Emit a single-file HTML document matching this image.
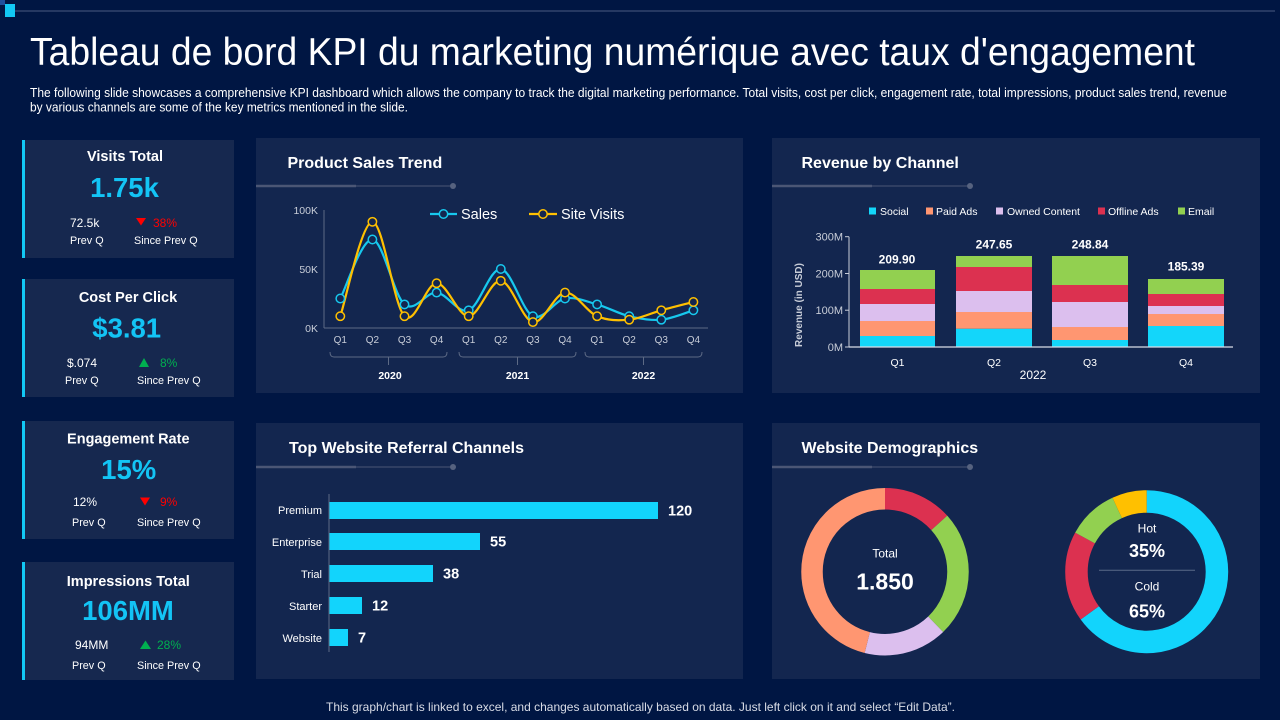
<!DOCTYPE html>
<html><head><meta charset="utf-8"><style>
html,body{margin:0;padding:0;background:#001643;}
svg{display:block;font-family:"Liberation Sans",Arial,sans-serif;}
</style></head><body>
<svg width="1280" height="720" viewBox="0 0 1280 720" xmlns="http://www.w3.org/2000/svg">
<rect width="1280" height="720" fill="#001643"/>
<!-- header decoration -->
<rect x="0" y="0" width="5" height="5" fill="#1f4f9c"/>
<rect x="5" y="4" width="10" height="13" fill="#12c8f4"/>
<line x1="15" y1="11" x2="1275" y2="11" stroke="#4a5a80" stroke-width="1"/>
<!-- title -->
<text x="30" y="65" font-size="39" fill="#ffffff" textLength="1165" lengthAdjust="spacingAndGlyphs">Tableau de bord KPI du marketing numérique avec taux d'engagement</text>
<text x="30" y="97" font-size="12.5" fill="#ffffff" textLength="1197" lengthAdjust="spacingAndGlyphs">The following slide showcases a comprehensive KPI dashboard which allows the company to track the digital marketing performance. Total visits, cost per click, engagement rate, total impressions, product sales trend, revenue</text>
<text x="30" y="111.5" font-size="12.5" fill="#ffffff" textLength="378" lengthAdjust="spacingAndGlyphs">by various channels are some of the key metrics mentioned in the slide.</text>

<!-- KPI cards -->
<g fill="#16284f">
<rect x="22" y="140" width="212" height="118"/>
<rect x="22" y="279" width="212" height="118"/>
<rect x="22" y="421" width="212" height="118"/>
<rect x="22" y="562" width="212" height="118"/>
</g>
<g fill="#12c8f4">
<rect x="22" y="140" width="3" height="118"/>
<rect x="22" y="279" width="3" height="118"/>
<rect x="22" y="421" width="3" height="118"/>
<rect x="22" y="562" width="3" height="118"/>
</g>
<g text-anchor="middle" font-weight="bold" fill="#ffffff" font-size="14.5">
<text x="125" y="161">Visits Total</text>
<text x="128" y="302">Cost Per Click</text>
<text x="128.3" y="443.5">Engagement Rate</text>
<text x="128.3" y="586">Impressions Total</text>
</g>
<g text-anchor="middle" font-weight="bold" fill="#13c4f5" font-size="27.5">
<text x="124.5" y="197">1.75k</text>
<text x="126.7" y="337.5">$3.81</text>
<text x="128.7" y="479">15%</text>
<text x="128" y="620">106MM</text>
</g>
<g fill="#ffffff" font-size="12">
<text x="70" y="227">72.5k</text>
<text x="67" y="367">$.074</text>
<text x="73" y="506">12%</text>
<text x="75" y="649">94MM</text>
</g>
<g fill="#ffffff" font-size="10.8">
<text x="70" y="244">Prev Q</text>
<text x="134" y="244">Since Prev Q</text>
<text x="65" y="384">Prev Q</text>
<text x="137" y="384">Since Prev Q</text>
<text x="72" y="526">Prev Q</text>
<text x="137" y="526">Since Prev Q</text>
<text x="72" y="669">Prev Q</text>
<text x="137" y="669">Since Prev Q</text>
</g>
<polygon points="136,218 146,218 141,225.5" fill="#ff0000"/>
<text x="153" y="227" font-size="12" fill="#ff0000">38%</text>
<polygon points="139,367 149,367 144,358" fill="#00b050"/>
<text x="160" y="367" font-size="12" fill="#00b050">8%</text>
<polygon points="140,497.5 150,497.5 145,505.5" fill="#ff0000"/>
<text x="160" y="506" font-size="12" fill="#ff0000">9%</text>
<polygon points="140,649 151,649 145.5,640.5" fill="#00b050"/>
<text x="157" y="649" font-size="12" fill="#00b050">28%</text>

<!-- panels -->
<g fill="#13264f">
<rect x="256" y="138" width="487" height="255"/>
<rect x="772" y="138" width="488" height="255"/>
<rect x="256" y="423" width="487" height="256"/>
<rect x="772" y="423" width="488" height="256"/>
</g>
<g font-weight="bold" fill="#ffffff" font-size="16">
<text x="287.5" y="168">Product Sales Trend</text>
<text x="801.5" y="168">Revenue by Channel</text>
<text x="289" y="453">Top Website Referral Channels</text>
<text x="801.5" y="453">Website Demographics</text>
</g>
<!-- underline decorations -->
<g stroke="#4b5675">
<line x1="256" y1="186" x2="356" y2="186" stroke-width="2.5"/>
<line x1="356" y1="186" x2="452" y2="186" stroke-width="1"/>
<line x1="772" y1="186" x2="872" y2="186" stroke-width="2.5"/>
<line x1="872" y1="186" x2="968" y2="186" stroke-width="1"/>
<line x1="256" y1="467" x2="356" y2="467" stroke-width="2.5"/>
<line x1="356" y1="467" x2="452" y2="467" stroke-width="1"/>
<line x1="772" y1="467" x2="872" y2="467" stroke-width="2.5"/>
<line x1="872" y1="467" x2="968" y2="467" stroke-width="1"/>
</g>
<g fill="#56627f">
<circle cx="453" cy="186" r="3"/>
<circle cx="970" cy="186" r="3"/>
<circle cx="453" cy="467" r="3"/>
<circle cx="970" cy="467" r="3"/>
</g>

<!-- Product Sales Trend chart -->
<line x1="324" y1="210" x2="324" y2="328" stroke="#5d6a85" stroke-width="1"/>
<line x1="324" y1="328" x2="708" y2="328" stroke="#5d6a85" stroke-width="1"/>
<g fill="#c8cdd8" font-size="10.5" text-anchor="end">
<text x="318" y="214">100K</text>
<text x="318" y="273">50K</text>
<text x="318" y="332">0K</text>
</g>
<g fill="#c8cdd8" font-size="10" text-anchor="middle">
<text x="340.3" y="343">Q1</text><text x="372.4" y="343">Q2</text><text x="404.5" y="343">Q3</text><text x="436.6" y="343">Q4</text>
<text x="468.7" y="343">Q1</text><text x="500.8" y="343">Q2</text><text x="532.9" y="343">Q3</text><text x="565" y="343">Q4</text>
<text x="597.1" y="343">Q1</text><text x="629.2" y="343">Q2</text><text x="661.3" y="343">Q3</text><text x="693.4" y="343">Q4</text>
</g>
<g fill="none" stroke="#5d6a85" stroke-width="1">
<path d="M330,352 Q330,357 334,357 L443,357 Q447,357 447,352"/>
<line x1="388.5" y1="357" x2="388.5" y2="365"/>
<path d="M459,352 Q459,357 463,357 L572,357 Q576,357 576,352"/>
<line x1="517.5" y1="357" x2="517.5" y2="365"/>
<path d="M585,352 Q585,357 589,357 L698,357 Q702,357 702,352"/>
<line x1="643.5" y1="357" x2="643.5" y2="365"/>
</g>
<g fill="#ffffff" font-size="10.5" font-weight="bold" text-anchor="middle">
<text x="390" y="379">2020</text>
<text x="517.5" y="379">2021</text>
<text x="643.5" y="379">2022</text>
</g>
<path fill="none" stroke="#17c8ee" stroke-width="2.2" d="M340.3,298.5 C345.65,288.67 361.7,238.52 372.4,239.5 C383.1,240.48 393.8,295.55 404.5,304.4 C415.2,313.25 425.9,291.62 436.6,292.6 C447.3,293.58 458,314.23 468.7,310.3 C479.4,306.37 490.1,268.02 500.8,269 C511.5,269.98 522.2,311.28 532.9,316.2 C543.6,321.12 554.3,300.47 565,298.5 C575.7,296.53 586.4,301.45 597.1,304.4 C607.8,307.35 618.5,313.65 629.2,316.2 C639.9,318.75 650.6,320.68 661.3,319.7 C672,318.72 688.05,311.87 693.4,310.3"/>
<path fill="none" stroke="#ffc000" stroke-width="2.2" d="M340.3,316.2 C345.65,300.47 361.7,221.8 372.4,221.8 C383.1,221.8 393.8,305.97 404.5,316.2 C415.2,326.43 425.9,283.2 436.6,283.2 C447.3,283.2 458,316.6 468.7,316.2 C479.4,315.8 490.1,279.82 500.8,280.8 C511.5,281.78 522.2,320.13 532.9,322.1 C543.6,324.07 554.3,293.58 565,292.6 C575.7,291.62 586.4,311.68 597.1,316.2 C607.8,320.72 618.5,320.68 629.2,319.7 C639.9,318.72 650.6,313.25 661.3,310.3 C672,307.35 688.05,303.38 693.4,302"/>
<g fill="#13264f" stroke="#17c8ee" stroke-width="1.5">
<circle cx="340.3" cy="298.5" r="4.2"/><circle cx="372.4" cy="239.5" r="4.2"/><circle cx="404.5" cy="304.4" r="4.2"/><circle cx="436.6" cy="292.6" r="4.2"/>
<circle cx="468.7" cy="310.3" r="4.2"/><circle cx="500.8" cy="269" r="4.2"/><circle cx="532.9" cy="316.2" r="4.2"/><circle cx="565" cy="298.5" r="4.2"/>
<circle cx="597.1" cy="304.4" r="4.2"/><circle cx="629.2" cy="316.2" r="4.2"/><circle cx="661.3" cy="319.7" r="4.2"/><circle cx="693.4" cy="310.3" r="4.2"/>
</g>
<g fill="#13264f" stroke="#ffc000" stroke-width="1.5">
<circle cx="340.3" cy="316.2" r="4.2"/><circle cx="372.4" cy="221.8" r="4.2"/><circle cx="404.5" cy="316.2" r="4.2"/><circle cx="436.6" cy="283.2" r="4.2"/>
<circle cx="468.7" cy="316.2" r="4.2"/><circle cx="500.8" cy="280.8" r="4.2"/><circle cx="532.9" cy="322.1" r="4.2"/><circle cx="565" cy="292.6" r="4.2"/>
<circle cx="597.1" cy="316.2" r="4.2"/><circle cx="629.2" cy="319.7" r="4.2"/><circle cx="661.3" cy="310.3" r="4.2"/><circle cx="693.4" cy="302" r="4.2"/>
</g>
<!-- legend -->
<line x1="430" y1="214" x2="457" y2="214" stroke="#17c8ee" stroke-width="2.2"/>
<circle cx="443.5" cy="214" r="4.2" fill="#13264f" stroke="#17c8ee" stroke-width="1.5"/>
<text x="461" y="219" font-size="14.5" fill="#ffffff">Sales</text>
<line x1="529" y1="214" x2="557" y2="214" stroke="#ffc000" stroke-width="2.2"/>
<circle cx="543" cy="214" r="4.2" fill="#13264f" stroke="#ffc000" stroke-width="1.5"/>
<text x="561" y="219" font-size="14.5" fill="#ffffff">Site Visits</text>

<!-- Revenue by Channel -->
<g font-size="10.5" fill="#ffffff">
<rect x="869" y="207.5" width="7" height="7" fill="#13d6fa"/><text x="880" y="215">Social</text>
<rect x="926" y="207.5" width="7" height="7" fill="#ff9671"/><text x="936" y="215">Paid Ads</text>
<rect x="996" y="207.5" width="7" height="7" fill="#dcbfee"/><text x="1007" y="215">Owned Content</text>
<rect x="1098" y="207.5" width="7" height="7" fill="#dc3150"/><text x="1108" y="215">Offline Ads</text>
<rect x="1178" y="207.5" width="7" height="7" fill="#92d050"/><text x="1188" y="215">Email</text>
</g>
<g fill="#c8cdd8" font-size="11" text-anchor="end">
<text x="843" y="240.7">300M</text>
<text x="843" y="277.5">200M</text>
<text x="843" y="314.2">100M</text>
<text x="843" y="351">0M</text>
</g>
<g stroke="#c8cdd8" stroke-width="1">
<line x1="849" y1="236.7" x2="849" y2="347"/>
<line x1="845" y1="236.7" x2="849" y2="236.7"/>
<line x1="845" y1="273.5" x2="849" y2="273.5"/>
<line x1="845" y1="310.2" x2="849" y2="310.2"/>
<line x1="845" y1="347" x2="849" y2="347"/>
</g>
<text transform="translate(802,305) rotate(-90)" text-anchor="middle" font-size="10" font-weight="bold" fill="#c8cdd8">Revenue (in USD)</text>
<!-- Q1 -->
<rect x="860" y="336" width="75" height="11" fill="#13d6fa"/>
<rect x="860" y="321" width="75" height="15" fill="#ff9671"/>
<rect x="860" y="304" width="75" height="17" fill="#dcbfee"/>
<rect x="860" y="289" width="75" height="15" fill="#dc3150"/>
<rect x="860" y="270" width="75" height="19" fill="#92d050"/>
<!-- Q2 -->
<rect x="956" y="328.7" width="76" height="18.3" fill="#13d6fa"/>
<rect x="956" y="312" width="76" height="16.7" fill="#ff9671"/>
<rect x="956" y="291" width="76" height="21" fill="#dcbfee"/>
<rect x="956" y="267" width="76" height="24" fill="#dc3150"/>
<rect x="956" y="256" width="76" height="11" fill="#92d050"/>
<!-- Q3 -->
<rect x="1052" y="340" width="76" height="7" fill="#13d6fa"/>
<rect x="1052" y="327" width="76" height="13" fill="#ff9671"/>
<rect x="1052" y="302" width="76" height="25" fill="#dcbfee"/>
<rect x="1052" y="285" width="76" height="17" fill="#dc3150"/>
<rect x="1052" y="256" width="76" height="29" fill="#92d050"/>
<!-- Q4 -->
<rect x="1148" y="326" width="76" height="21" fill="#13d6fa"/>
<rect x="1148" y="314" width="76" height="12" fill="#ff9671"/>
<rect x="1148" y="306" width="76" height="8" fill="#dcbfee"/>
<rect x="1148" y="294" width="76" height="12" fill="#dc3150"/>
<rect x="1148" y="279" width="76" height="15" fill="#92d050"/>
<line x1="849" y1="347" x2="1233" y2="347" stroke="#d9dde6" stroke-width="1.2"/>
<g font-size="12" font-weight="bold" fill="#ffffff" text-anchor="middle">
<text x="897" y="263.5">209.90</text>
<text x="994" y="248.5">247.65</text>
<text x="1090" y="248.5">248.84</text>
<text x="1186" y="270.5">185.39</text>
</g>
<g font-size="10.5" fill="#ffffff" text-anchor="middle">
<text x="897.5" y="366">Q1</text>
<text x="994" y="366">Q2</text>
<text x="1090" y="366">Q3</text>
<text x="1186" y="366">Q4</text>
</g>
<text x="1033" y="379" font-size="12" fill="#ffffff" text-anchor="middle">2022</text>

<!-- Top Website Referral Channels -->
<line x1="329" y1="494" x2="329" y2="652" stroke="#5d6a85" stroke-width="1"/>
<g fill="#12d4fc">
<rect x="329.5" y="502" width="328.5" height="17"/>
<rect x="329.5" y="533" width="150.5" height="17"/>
<rect x="329.5" y="565" width="103.5" height="17"/>
<rect x="329.5" y="597" width="32.5" height="17"/>
<rect x="329.5" y="629" width="18.5" height="17"/>
</g>
<g font-size="11" fill="#ffffff" text-anchor="end">
<text x="322" y="514">Premium</text>
<text x="322" y="546">Enterprise</text>
<text x="322" y="578">Trial</text>
<text x="322" y="610">Starter</text>
<text x="322" y="642">Website</text>
</g>
<g font-size="14.5" font-weight="bold" fill="#ffffff">
<text x="668" y="515.5">120</text>
<text x="490" y="546.5">55</text>
<text x="443" y="578.5">38</text>
<text x="372" y="610.5">12</text>
<text x="358" y="642.5">7</text>
</g>

<!-- Website Demographics -->
<g fill="none" stroke-width="21.5" transform="rotate(-90 885 571.7)">
<circle cx="885" cy="571.7" r="73" stroke="#dc3150" stroke-dasharray="61.16 1000" stroke-dashoffset="0"/>
<circle cx="885" cy="571.7" r="73" stroke="#92d050" stroke-dasharray="112.12 1000" stroke-dashoffset="-61.16"/>
<circle cx="885" cy="571.7" r="73" stroke="#dcbfee" stroke-dasharray="73.9 1000" stroke-dashoffset="-173.28"/>
<circle cx="885" cy="571.7" r="73" stroke="#ff9671" stroke-dasharray="211.49 1000" stroke-dashoffset="-247.18"/>
</g>
<text x="885" y="557.7" font-size="12" fill="#ffffff" text-anchor="middle">Total</text>
<text x="885" y="589.3" font-size="23" font-weight="bold" fill="#ffffff" text-anchor="middle">1.850</text>

<g fill="none" stroke-width="22.5" transform="rotate(-90 1146.7 571.7)">
<circle cx="1146.7" cy="571.7" r="70.25" stroke="#12d4fc" stroke-dasharray="286.9 1000" stroke-dashoffset="0"/>
<circle cx="1146.7" cy="571.7" r="70.25" stroke="#dc3150" stroke-dasharray="79.1 1000" stroke-dashoffset="-286.9"/>
<circle cx="1146.7" cy="571.7" r="70.25" stroke="#92d050" stroke-dasharray="44.75 1000" stroke-dashoffset="-366"/>
<circle cx="1146.7" cy="571.7" r="70.25" stroke="#ffc000" stroke-dasharray="30.65 1000" stroke-dashoffset="-410.75"/>
</g>
<text x="1147" y="532.3" font-size="12" fill="#ffffff" text-anchor="middle">Hot</text>
<text x="1147" y="557" font-size="18" font-weight="bold" fill="#ffffff" text-anchor="middle">35%</text>
<line x1="1099" y1="570.3" x2="1195" y2="570.3" stroke="#5a6a88" stroke-width="1"/>
<text x="1147" y="590.7" font-size="12" fill="#ffffff" text-anchor="middle">Cold</text>
<text x="1147" y="617.3" font-size="18" font-weight="bold" fill="#ffffff" text-anchor="middle">65%</text>

<!-- footer -->
<text x="326" y="711" font-size="12" fill="#d8dce6" textLength="629" lengthAdjust="spacingAndGlyphs">This graph/chart is linked to excel, and changes automatically based on data. Just left click on it and select “Edit Data”.</text>
</svg>
</body></html>
